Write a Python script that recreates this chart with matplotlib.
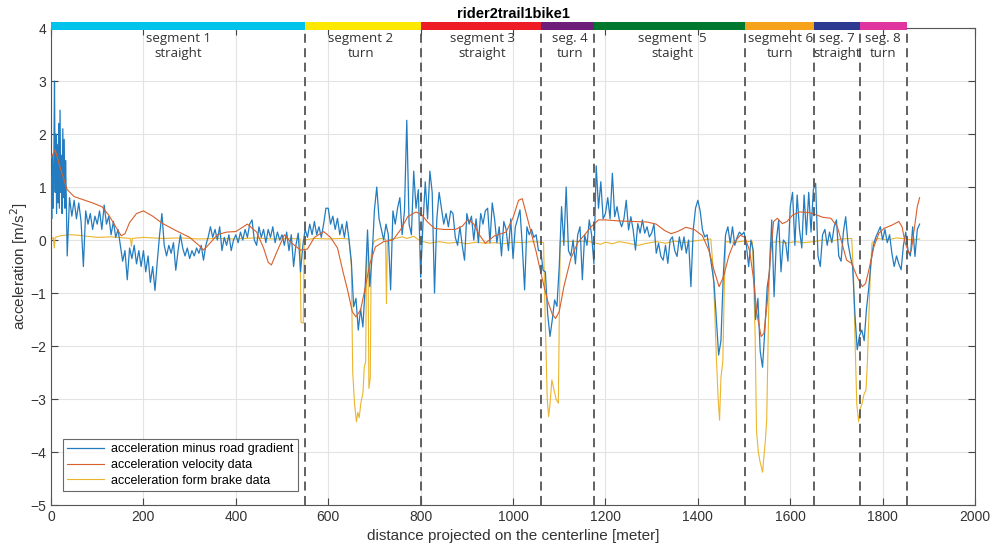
import numpy as np
import matplotlib
matplotlib.use("Agg")
import matplotlib.pyplot as plt

plt.rcParams['font.family'] = ['Liberation Sans', 'DejaVu Sans']

# acceleration minus road gradient: dense start (0-33 m, 1.5 m step)
blue_start = [1.2, 0.4, 1.6, 0.6, 1.4, 3.0, 0.9, 2.0, 0.5, 1.8,
              0.7, 2.2, 0.6, 2.45, 0.9, 1.6, 0.5, 2.1, 0.8, 1.9,
              0.6, 1.5, 0.8]
# then from 35 m onward in 5 m steps
blue_main = [
    -0.3, 0.8, 0.45, 0.75, 0.4, 0.7, 0.35, -0.5, 0.55, 0.3, 0.5, 0.2, 0.45,  # 35-95
    0.3, 0.55, 0.2, 0.66, 0.3, 0.45, 0.1, 0.35, 0.05, 0.2, -0.1, -0.4, -0.2, -0.75, -0.15, -0.35, -0.1, -0.45, -0.2, -0.5,
    -0.2, -0.6, -0.3, -0.8, -0.5, -0.95, -0.4, 0.1, 0.5, -0.1, -0.3, -0.1, -0.25, -0.05, -0.57, -0.2, 0.1, -0.15, -0.3, -0.15,
    -0.35, -0.2, -0.3, -0.15, -0.25, -0.1, -0.38, -0.1, 0.05, 0.25, 0.05, 0.2, 0.0, 0.25, -0.2, 0.05, -0.1, 0.1, -0.2, 0.0,
    0.1, -0.05, 0.15, 0.0, 0.2, 0.05, 0.3, 0.38, 0.0, -0.1, 0.25, 0.05, 0.2, -0.05, 0.2, 0.05, 0.25, -0.05, 0.15, 0.0,
    0.1, -0.1, 0.15, -0.2, 0.1, -0.5, -0.1, 0.13, -0.6, -0.1, 0.2, 0.05, 0.3, 0.1, 0.35, 0.1, 0.25, 0.05, 0.3, 0.6,
    0.6, 0.3, 0.45, 0.2, 0.41, 0.1, 0.3, 0.05, 0.35, 0.0, -0.4, -1.26, -1.1, -1.7, -1.3, -1.64, -0.88, 0.19, -0.88, -0.3,
    0.57, 1.0, 0.4, 0.2, 0.0, 0.3, 0.1, -0.94, 0.55, 0.3, 0.6, 0.8, 0.1, 0.55, 2.26, 0.3, 0.1, 1.3, 0.6, 0.95,
    -0.7, 0.3, 1.1, 0.4, 1.3, 0.9, -1.0, 0.4, 0.9, 0.6, 0.3, 0.5, 0.25, 0.55, 0.5, 0.05, -0.1, 0.25, -0.1, -0.38,
    0.5, 0.3, 0.45, 0.0, 0.4, -0.05, 0.5, 0.3, 0.55, 0.6, -0.05, 0.7, 0.4, -0.05, 0.25, -0.3, 0.35, 0.2, -0.2, 0.4,
    -0.35, 0.25, 0.4, 0.57, -0.1, -0.94, 0.25, 0.1, 0.2, 0.05, 0.1, -0.2, -0.2, -0.57, -0.6, -1.4, -1.82, -1.5, -1.13, -1.25,
    -0.5, 0.63, -0.1, 1.0, -0.2, -0.3, 0.0, -0.45, 0.1, 0.25, -0.75, 0.1, -0.1, 0.38, 0.1, -0.45, 1.4, 0.6, 1.1, 0.4,
    0.5, 0.8, 0.4, 1.26, 0.44, 0.63, 0.38, 0.25, 0.4, 0.75, 0.19, 0.44, 0.19, -0.19, 0.31, 0.13, 0.38, 0.13, 0.25, 0.06,
    0.13, 0.3, -0.25, -0.06, -0.31, -0.38, -0.1, -0.44, 0.0, 0.06, -0.2, -0.31, 0.06, -0.19, 0.06, -0.25, 0.0, -0.88, 0.19, 0.6,
    0.75, 0.55, 0.19, 0.06, 0.1, -0.2, -0.5, -0.8, -1.5, -2.17, -1.9, -0.69, 0.1, 0.25, -0.06, 0.25, -0.1, 0.05, 0.15, 0.1,
    0.15, -0.1, -0.5, 0.0, -0.2, -1.5, -1.1, -2.1, -2.4, -1.7, -0.9, -0.6, 0.38, -1.07, 0.0, 0.38, -0.6, 0.0, -0.05, -0.4,
    0.63, 0.9, -0.1, 0.85, 0.2, -0.15, 0.85, 0.1, 0.9, 0.15, 0.95, 1.07, -0.3, -0.5, 0.1, 0.2, -0.1, 0.15, -0.05, 0.25,
    0.38, -0.3, -0.4, 0.15, 0.44, -0.06, -0.3, -0.5, -1.4, -2.07, -1.8, -1.7, -1.9, -1.3, -0.9, -0.4, -0.1, 0.05, 0.15, 0.25,
    0.0, 0.2, -0.05, 0.1, -0.25, -0.5, -0.3, -0.45, -0.56, -0.1, 0.15, -0.2, -0.3, 0.25, -0.31, 0.2, 0.3,  # 1800-1880
]

# acceleration velocity data
orange_x = [0, 9, 22, 35, 50, 70, 90, 110, 125, 140, 152, 160, 170, 185, 200, 220, 240, 270, 300, 320,
            330, 345, 360, 380, 400, 425, 445, 460, 470, 477, 490, 505, 520, 540, 555, 570, 590, 605, 620, 632,
            642, 652, 660, 670, 680, 690, 702, 720, 740, 757, 772, 790, 802, 815, 830, 850, 875, 890, 903, 915,
            927, 940, 960, 985, 1000, 1012, 1020, 1035, 1050, 1062, 1075, 1085, 1092, 1100, 1110, 1125, 1140, 1155, 1170, 1185,
            1200, 1230, 1260, 1290, 1310, 1328, 1342, 1356, 1374, 1392, 1410, 1424, 1435, 1446, 1456, 1467, 1478, 1492, 1502, 1512,
            1520, 1528, 1537, 1543, 1550, 1557, 1564, 1572, 1583, 1593, 1605, 1620, 1640, 1655, 1670, 1688, 1702, 1712, 1722, 1733,
            1745, 1756, 1763, 1770, 1781, 1792, 1803, 1820, 1835, 1842, 1849, 1857, 1862, 1868, 1875, 1880]
orange_y = [1.55, 1.7, 1.3, 0.95, 0.82, 0.76, 0.7, 0.63, 0.47, 0.25, 0.08, 0.12, 0.33, 0.5, 0.55, 0.45, 0.32, 0.18, 0.05, -0.1,
            -0.19, -0.05, 0.1, 0.15, 0.16, 0.3, 0.15, -0.15, -0.42, -0.47, -0.2, 0.1, -0.05, -0.19, -0.17, 0.05, 0.16, 0.05, -0.15, -0.6,
            -0.95, -1.35, -1.45, -1.32, -0.9, -0.45, -0.13, -0.03, 0.0, 0.2, 0.44, 0.53, 0.48, 0.34, 0.22, 0.2, 0.2, 0.26, 0.39, 0.3,
            0.1, -0.06, 0.08, 0.15, 0.42, 0.75, 0.78, 0.28, -0.22, -0.69, -1.15, -1.4, -1.48, -1.35, -0.88, -0.35, -0.05, 0.1, 0.26, 0.38,
            0.38, 0.36, 0.35, 0.34, 0.3, 0.18, 0.12, 0.16, 0.24, 0.2, 0.08, -0.2, -0.57, -0.88, -0.68, -0.3, -0.05, 0.09, 0.05, -0.2,
            -0.7, -1.4, -1.82, -1.76, -1.2, -0.31, 0.35, 0.41, 0.31, 0.35, 0.47, 0.53, 0.52, 0.48, 0.43, 0.41, 0.25, -0.06, -0.38, -0.44,
            -0.7, -0.88, -0.82, -0.57, -0.13, 0.13, 0.22, 0.28, 0.35, 0.25, -0.06, -0.25, -0.2, 0.19, 0.63, 0.8]

# acceleration from brake data
yellow_x = [0, 5, 7, 9, 20, 40, 60, 80, 100, 130, 160, 172, 174, 176, 200, 240, 280, 320, 360, 400,
            440, 480, 520, 539, 541, 546, 548, 570, 600, 630, 645, 650, 653, 657, 661, 664, 667, 671, 675, 678,
            681, 683, 686, 688, 691, 693, 696, 700, 712, 724, 726, 728, 740, 760, 770, 785, 800, 820, 840, 860,
            880, 900, 920, 940, 960, 980, 1000, 1020, 1040, 1060, 1066, 1070, 1074, 1077, 1080, 1084, 1088, 1093, 1098, 1100,
            1102, 1130, 1160, 1175, 1190, 1200, 1215, 1230, 1250, 1270, 1290, 1310, 1330, 1350, 1370, 1390, 1410, 1428, 1432, 1436,
            1440, 1444, 1447, 1450, 1454, 1457, 1460, 1480, 1500, 1518, 1521, 1524, 1527, 1531, 1535, 1538, 1540, 1543, 1546, 1549,
            1552, 1555, 1557, 1575, 1590, 1610, 1630, 1650, 1670, 1690, 1710, 1733, 1737, 1740, 1744, 1748, 1751, 1755, 1760, 1764,
            1767, 1770, 1773, 1777, 1790, 1810, 1830, 1850, 1865, 1880]
yellow_y = [0.0, 0.05, -0.15, 0.05, 0.08, 0.1, 0.09, 0.07, 0.05, 0.06, 0.04, 0.03, -0.12, 0.03, 0.05, 0.03, 0.04, 0.02, 0.03, 0.02,
            0.04, 0.02, 0.03, 0.02, -1.55, -1.57, 0.0, 0.03, 0.02, 0.03, 0.02, -0.5, -2.5, -3.1, -3.43, -3.25, -3.35, -3.05, -2.9, -2.4,
            -2.3, -0.2, -0.15, -2.8, -2.6, -0.3, -0.1, -0.02, 0.03, 0.02, -1.2, 0.0, 0.02, 0.06, 0.03, 0.07, -0.02, -0.06, -0.03, -0.06,
            -0.04, -0.07, -0.04, -0.06, -0.05, -0.07, -0.04, -0.05, -0.03, -0.04, -0.05, -1.6, -3.0, -3.33, -3.1, -2.64, -2.8, -3.0, -3.08, -1.5,
            -0.02, -0.03, -0.02, -0.05, -0.08, -0.04, -0.07, -0.03, -0.06, -0.1, -0.06, -0.03, -0.06, -0.02, -0.05, -0.02, 0.0, 0.02, -0.4, -1.2,
            -2.2, -3.0, -3.4, -2.6, -2.3, -1.0, -0.03, -0.04, -0.02, -0.03, -0.8, -1.8, -3.6, -4.0, -4.2, -4.3, -4.38, -4.1, -3.8, -3.4,
            -2.0, -0.5, -0.05, -0.03, -0.06, -0.03, -0.05, -0.03, 0.0, -0.02, 0.02, 0.03, -0.7, -1.8, -3.1, -3.43, -3.2, -3.1, -2.9, -2.83,
            -2.3, -1.5, -0.7, -0.05, 0.03, 0.0, 0.04, 0.02, 0.0, 0.02]

seg_edges = [0, 550, 800, 1060, 1175, 1503, 1652, 1752, 1852]
seg_colors = ['#00C3EB', '#FFE800', '#EE1C25', '#6E1E78', '#00782E', '#F7A21B', '#2B3990', '#E0359F']
seg_labels = ['segment 1\nstraight', 'segment 2\nturn', 'segment 3\nstraight', 'seg. 4\nturn',
              'segment  5\nstaight', 'segment 6\nturn', 'seg. 7\nstraight', 'seg. 8\nturn']
seg_label_x = [275, 671, 933, 1123, 1344, 1578, 1701, 1800]

blue_x = np.concatenate([np.arange(len(blue_start)) * 1.5, 35 + np.arange(len(blue_main)) * 5.0])
blue_y = np.concatenate([blue_start, blue_main])

fig = plt.figure(figsize=(9.91, 5.52), dpi=100)
ax = fig.add_axes([0.0515, 0.0851, 0.9324, 0.8641])

ax.plot(blue_x, blue_y, color='#237cbf', lw=0.9, label='acceleration minus road gradient', zorder=3)
ax.plot(orange_x, orange_y, color='#D95F2B', lw=0.8, label='acceleration velocity data', zorder=4)
ax.plot(yellow_x, yellow_y, color='#EBB52E', lw=0.8, label='acceleration form brake data', zorder=2)

for xv in seg_edges[1:]:
    ax.axvline(xv, color='#555555', lw=1.3, ls=(0, (5, 3)), zorder=5)

for i in range(len(seg_colors)):
    ax.fill_between([seg_edges[i], seg_edges[i + 1]], 3.97, 4.12, color=seg_colors[i],
                    lw=0, clip_on=False, zorder=6)
    ax.text(seg_label_x[i], 3.66, seg_labels[i], ha='center', va='center', fontsize=9.5,
            color='#333333', family='Open Sans', linespacing=1.25, zorder=7)

ax.text(1000, 4.13, 'rider2trail1bike1', ha='center', va='bottom', fontsize=10.5,
        fontweight='bold', color='black')

ax.set_xlim(0, 2000)
ax.set_ylim(-5, 4)
ax.set_xticks(np.arange(0, 2001, 200))
ax.set_yticks(np.arange(-5, 5, 1))
ax.grid(True, color='#e3e3e3', lw=0.8)
ax.set_axisbelow(True)
ax.tick_params(direction='in', top=True, right=True, length=5, colors='#444444',
               labelsize=10, labelcolor='#333333')
for s in ax.spines.values():
    s.set_color('#555555')
    s.set_linewidth(0.8)

ax.set_xlabel('distance projected on the centerline [meter]', fontsize=11, color='#333333')
ax.set_ylabel('acceleration [m/s$^2$]', fontsize=11, color='#333333', labelpad=0)

leg = ax.legend(loc='lower left', bbox_to_anchor=(0.013, 0.029), fontsize=9, frameon=True,
                fancybox=False, edgecolor='#444444', borderaxespad=0, handlelength=2.9,
                handletextpad=0.6, borderpad=0.35, labelspacing=0.3)
leg.get_frame().set_linewidth(0.8)

fig.savefig('out.png', dpi=100)
